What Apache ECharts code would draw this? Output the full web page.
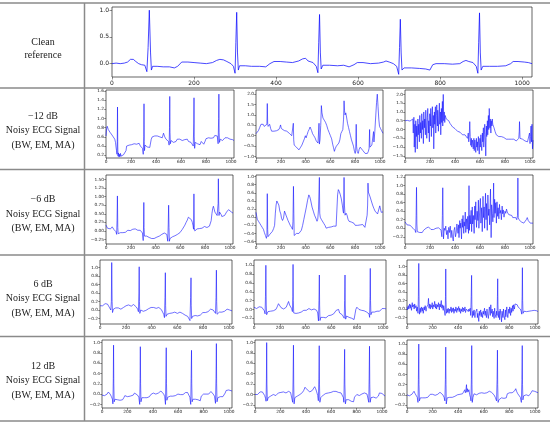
<!DOCTYPE html>
<html>
<head>
<meta charset="utf-8">
<script src="https://cdn.jsdelivr.net/npm/echarts@6/dist/echarts.min.js"></script>
<style>
  html, body { margin: 0; padding: 0; background: #fff; }
  #main { width: 550px; height: 424px; }
</style>
</head>
<body>
<div id="main"></div>
<script>
/* ECG denoising table: clean reference + noisy inputs at 4 SNR levels */
var xTicks = [0, 200, 400, 600, 800, 1000];

var rowNames = ['−12 dB', '−6 dB', '6 dB', '12 dB'];
var noiseNote = ['Noisy ECG Signal', '(BW, EM, MA)'];

// y tick labels of every panel
var ticksClean = [0, 0.5, 1.0];
var ticksM12a = [0.2, 0.4, 0.6, 0.8, 1.0, 1.2, 1.4, 1.6];
var ticksM12b = [-1.0, -0.5, 0, 0.5, 1.0, 1.5, 2.0];
var ticksM12c = [-1.5, -1.0, -0.5, 0, 0.5, 1.0, 1.5, 2.0];
var ticksM6a = [-0.25, 0, 0.25, 0.5, 0.75, 1.0, 1.25, 1.5];
var ticksM6b = [-0.6, -0.4, -0.2, 0, 0.2, 0.4, 0.6, 0.8, 1.0];
var ticksM6c = [-0.2, 0, 0.2, 0.4, 0.6, 0.8, 1.0, 1.2];
var ticksLow = [-0.2, 0, 0.2, 0.4, 0.6, 0.8, 1.0];

var cleanRef = [[0,0.0],[10,0.01],[20,0.0],[30,0.01],[38,0.03],[45,0.08],[52,0.08],[58,0.04],[65,0.0],[72,-0.02],[80,-0.03],[85,-0.15],[88,0.3],[91,1.0],[94,0.2],[96,-0.12],[99,-0.05],[110,-0.05],[125,-0.06],[140,-0.06],[152,-0.08],[160,-0.05],[170,0.03],[185,0.03],[200,0.02],[215,0.01],[230,0.0],[245,0.02],[255,0.06],[263,0.08],[272,0.07],[280,0.04],[290,0.0],[296,-0.05],[300,-0.18],[302,0.4],[304,0.96],[306,0.2],[308,-0.12],[311,-0.04],[325,-0.04],[340,-0.05],[360,-0.05],[375,-0.06],[385,0.0],[395,0.04],[410,0.04],[425,0.03],[440,0.02],[455,0.05],[465,0.09],[472,0.1],[478,0.05],[490,0.02],[498,-0.05],[502,-0.17],[504,0.4],[506,0.92],[508,0.2],[510,-0.1],[514,-0.03],[530,-0.03],[550,-0.04],[565,-0.03],[578,-0.06],[590,-0.02],[598,0.02],[612,0.02],[630,0.0],[650,0.01],[662,0.03],[668,0.05],[676,0.03],[686,0.0],[694,-0.05],[699,-0.2],[701,0.3],[703,0.83],[705,0.2],[707,-0.12],[712,-0.08],[730,-0.08],[750,-0.09],[765,-0.1],[775,-0.12],[782,-0.02],[790,0.0],[810,0.0],[830,-0.01],[848,0.0],[856,0.04],[863,0.06],[870,0.04],[880,0.02],[888,-0.05],[892,-0.18],[894,0.4],[896,0.95],[898,0.2],[900,-0.12],[904,-0.05],[920,-0.05],[940,-0.05],[960,-0.04],[972,0.0],[978,0.04],[990,0.04],[1005,0.03],[1015,0.02],[1024,0.0]];

var noisyM12a = [[0,0.62],[5,0.78],[10,0.83],[18,0.76],[25,0.74],[32,0.7],[40,0.72],[48,0.64],[55,0.62],[62,0.6],[70,0.55],[76,0.48],[80,0.38],[84,0.3],[88,0.22],[90,0.5],[92,1.25],[94,0.4],[96,0.18],[100,0.25],[104,0.16],[108,0.22],[112,0.17],[116,0.24],[120,0.18],[124,0.22],[128,0.16],[132,0.2],[136,0.17],[140,0.21],[145,0.18],[150,0.2],[155,0.25],[160,0.3],[165,0.4],[175,0.38],[185,0.42],[195,0.45],[205,0.43],[215,0.4],[225,0.45],[235,0.42],[245,0.44],[255,0.4],[265,0.46],[275,0.4],[285,0.38],[292,0.35],[298,0.22],[302,0.6],[304,1.32],[306,0.5],[308,0.3],[312,0.42],[320,0.4],[330,0.38],[340,0.35],[350,0.37],[356,0.33],[362,0.55],[370,0.6],[380,0.58],[390,0.62],[400,0.64],[410,0.62],[420,0.66],[430,0.6],[440,0.63],[450,0.58],[460,0.68],[470,0.6],[480,0.55],[490,0.56],[500,0.5],[505,0.42],[508,0.8],[510,1.48],[512,0.7],[515,0.45],[520,0.52],[530,0.5],[540,0.48],[550,0.52],[560,0.5],[570,0.55],[580,0.57],[590,0.55],[600,0.58],[610,0.52],[620,0.5],[630,0.54],[640,0.52],[650,0.55],[660,0.5],[670,0.52],[680,0.48],[690,0.5],[698,0.4],[702,0.9],[704,1.45],[706,0.6],[709,0.35],[714,0.48],[722,0.5],[732,0.45],[742,0.47],[752,0.43],[762,0.5],[772,0.46],[782,0.44],[792,0.5],[800,0.56],[810,0.6],[820,0.58],[830,0.62],[840,0.57],[850,0.6],[860,0.58],[870,0.63],[880,0.6],[890,0.62],[897,0.45],[901,1.0],[903,1.53],[905,0.7],[908,0.48],[914,0.55],[922,0.55],[932,0.52],[942,0.55],[952,0.58],[962,0.6],[972,0.58],[982,0.6],[992,0.55],[1002,0.57],[1012,0.54],[1024,0.52]];

var noisyM12b = [[0,0.1],[10,0.15],[20,0.25],[30,0.4],[40,0.55],[50,0.62],[58,0.55],[66,0.45],[74,0.5],[82,0.4],[88,0.55],[91,1.55],[94,0.6],[98,0.45],[104,0.5],[110,0.55],[118,0.35],[126,0.22],[135,0.25],[145,0.22],[155,0.25],[165,0.24],[175,0.28],[185,0.3],[192,0.4],[198,0.52],[204,0.35],[210,0.4],[218,0.28],[228,0.25],[238,0.2],[248,0.22],[258,0.15],[268,0.12],[278,0.05],[288,0.0],[296,-0.05],[301,0.6],[304,-0.2],[308,-0.45],[316,-0.5],[326,-0.55],[336,-0.6],[346,-0.68],[352,-0.72],[360,-0.55],[370,-0.45],[380,-0.3],[390,-0.15],[398,0.0],[404,-0.1],[412,0.05],[420,0.2],[428,0.3],[436,0.42],[442,0.48],[448,0.25],[456,0.1],[466,0.0],[476,-0.1],[486,-0.25],[494,-0.2],[500,-0.35],[504,-0.3],[508,0.6],[511,-0.4],[516,-0.2],[522,0.5],[527,1.45],[532,1.1],[540,0.85],[550,0.75],[560,0.65],[570,0.5],[580,0.3],[590,0.15],[600,0.0],[610,-0.15],[618,-0.4],[624,-0.55],[632,-0.75],[640,-0.6],[648,-0.5],[658,-0.45],[668,-0.35],[676,-0.2],[684,0.1],[692,0.2],[700,0.3],[706,0.8],[710,1.68],[714,1.2],[718,1.0],[724,1.1],[730,0.9],[738,0.6],[746,0.4],[754,0.2],[762,0.0],[770,-0.2],[778,-0.35],[786,-0.5],[794,-0.75],[800,-0.85],[804,-0.7],[808,0.55],[811,-0.5],[816,-0.75],[824,-0.85],[832,-0.65],[840,-0.55],[850,-0.6],[860,-0.7],[870,-0.75],[880,-0.85],[890,-0.92],[898,-0.85],[906,-0.75],[912,-0.6],[916,0.3],[919,-0.55],[926,-0.5],[934,-0.45],[942,-0.5],[948,0.2],[951,-0.3],[958,0.2],[965,0.9],[972,1.6],[978,2.0],[984,1.4],[990,0.8],[996,0.45],[1004,0.35],[1012,0.25],[1018,0.2],[1024,0.12]];

var noisyM12c = [[0,0.5],[20,0.52],[40,0.48],[55,0.45],[62,0.6],[66,-0.2],[71,0.7],[74,-1.0],[79,0.3],[82,-1.3],[86,0.5],[91,-0.4],[94,0.2],[98,-1.1],[103,0.6],[106,-0.3],[110,0.3],[115,-0.7],[118,0.8],[123,-0.2],[126,0.4],[131,-0.5],[134,0.9],[139,0.0],[142,0.5],[147,-0.8],[150,1.0],[155,0.1],[158,0.6],[163,-0.3],[166,1.1],[171,0.2],[174,-0.5],[179,0.7],[182,1.2],[187,-0.2],[190,0.5],[195,-0.7],[198,0.9],[203,0.2],[206,1.2],[211,-0.4],[214,0.6],[219,1.3],[222,0.1],[227,0.8],[230,-1.1],[235,1.0],[238,0.3],[243,1.3],[246,-0.2],[251,0.8],[254,1.4],[259,0.2],[262,1.1],[267,-0.1],[270,0.6],[275,1.5],[278,0.3],[283,1.0],[286,-0.3],[291,1.2],[294,0.4],[299,1.6],[302,0.2],[306,2.0],[310,0.5],[314,1.0],[318,0.4],[322,0.8],[330,0.6],[340,0.65],[350,0.5],[360,0.35],[370,0.25],[380,0.15],[390,0.1],[400,0.05],[410,-0.05],[420,-0.1],[430,-0.2],[440,-0.15],[450,-0.25],[460,-0.3],[470,-0.35],[480,-0.3],[490,-0.4],[500,-0.5],[506,-0.2],[510,-0.7],[514,-0.3],[518,0.45],[522,-0.4],[526,-0.9],[531,-0.5],[534,-1.0],[539,-0.6],[542,-0.7],[546,-1.1],[551,-0.5],[554,-1.2],[559,-0.6],[562,-0.9],[566,-1.3],[571,-0.5],[574,-1.0],[579,-0.7],[582,-1.2],[587,-0.4],[590,-0.9],[594,-1.4],[599,-0.5],[602,-1.0],[607,-0.3],[610,-0.8],[614,-1.2],[619,-0.2],[622,-0.7],[627,0.1],[630,-1.0],[635,-0.3],[638,0.3],[643,-0.6],[646,-1.5],[651,0.2],[654,-0.4],[659,0.5],[662,-0.3],[667,0.8],[670,0.0],[674,1.2],[679,0.1],[682,0.6],[687,-0.2],[690,0.5],[695,0.2],[698,0.6],[702,0.3],[706,0.4],[712,0.1],[720,-0.1],[730,-0.3],[740,-0.35],[750,-0.4],[760,-0.45],[770,-0.4],[780,-0.5],[790,-0.45],[800,-0.5],[810,-0.55],[820,-0.5],[830,-0.55],[840,-0.6],[850,-0.55],[860,-0.6],[870,-0.55],[880,-0.6],[890,-0.65],[900,-0.55],[910,-0.5],[914,-0.1],[916,0.45],[920,-0.5],[930,-0.6],[940,-0.55],[950,-0.6],[960,-0.65],[970,-0.6],[980,-0.7],[990,-0.6],[996,-0.2],[1000,-0.8],[1004,-0.4],[1008,0.2],[1012,-0.7],[1016,0.3],[1020,-1.1],[1024,-0.6]];

var noisyM6a = [[0,0.17],[6,0.12],[12,0.08],[20,0.05],[28,0.08],[36,0.06],[44,0.1],[50,0.12],[56,0.08],[64,0.04],[72,0.0],[80,-0.02],[86,-0.1],[89,0.3],[92,1.02],[95,0.1],[98,-0.08],[106,-0.03],[116,-0.05],[126,-0.02],[136,-0.05],[146,-0.03],[156,-0.04],[166,0.0],[176,0.02],[186,0.0],[196,0.01],[206,0.03],[216,0.05],[226,0.04],[236,0.06],[246,0.03],[256,0.02],[266,0.0],[276,0.02],[286,-0.03],[294,-0.06],[300,-0.28],[303,0.2],[305,0.83],[307,0.1],[310,-0.15],[318,-0.12],[328,-0.15],[338,-0.17],[348,-0.19],[358,-0.2],[368,-0.22],[378,-0.21],[388,-0.22],[398,-0.2],[410,-0.18],[420,-0.17],[430,-0.15],[440,-0.13],[450,-0.1],[460,-0.08],[470,-0.06],[480,-0.05],[490,-0.1],[498,-0.3],[502,0.2],[505,0.75],[508,0.1],[511,-0.3],[516,-0.22],[526,-0.2],[536,-0.17],[546,-0.16],[556,-0.14],[566,-0.12],[576,-0.1],[586,-0.08],[596,-0.05],[606,0.0],[616,0.05],[626,0.1],[636,0.17],[646,0.25],[656,0.32],[664,0.4],[672,0.45],[680,0.38],[688,0.33],[696,0.25],[702,0.15],[706,0.05],[709,1.08],[712,0.1],[716,0.0],[724,0.05],[734,0.06],[744,0.08],[754,0.07],[764,0.05],[774,0.08],[784,0.12],[794,0.13],[804,0.11],[814,0.1],[824,0.12],[834,0.14],[842,0.18],[848,0.3],[854,0.5],[860,0.65],[866,0.72],[872,0.68],[878,0.55],[884,0.5],[890,0.52],[896,0.45],[900,0.5],[904,0.8],[906,1.52],[908,0.9],[911,0.45],[916,0.55],[922,0.5],[928,0.48],[934,0.42],[940,0.4],[948,0.42],[956,0.45],[964,0.5],[972,0.55],[980,0.6],[988,0.62],[996,0.6],[1004,0.57],[1012,0.55],[1024,0.52]];

var noisyM6b = [[0,0.12],[10,-0.05],[20,-0.1],[30,-0.15],[40,-0.2],[50,-0.25],[60,-0.3],[68,-0.38],[76,-0.45],[84,-0.52],[88,-0.45],[91,0.58],[94,-0.3],[97,-0.48],[104,-0.44],[112,-0.42],[122,-0.4],[132,-0.35],[142,-0.28],[150,-0.2],[156,0.1],[162,0.3],[168,0.4],[176,0.38],[184,0.3],[192,0.15],[200,0.08],[206,-0.03],[214,-0.08],[222,-0.02],[230,0.15],[236,0.14],[242,0.05],[250,0.02],[258,-0.08],[266,-0.12],[276,-0.2],[286,-0.25],[294,-0.3],[298,-0.1],[302,0.76],[305,0.1],[308,-0.45],[316,-0.42],[326,-0.4],[336,-0.42],[346,-0.4],[356,-0.38],[366,-0.32],[376,-0.2],[386,-0.05],[396,0.1],[406,0.25],[416,0.42],[426,0.55],[434,0.5],[442,0.4],[452,0.25],[462,0.15],[472,0.05],[482,-0.02],[492,-0.1],[498,-0.05],[504,0.2],[508,0.22],[511,0.98],[514,0.1],[518,0.0],[526,-0.05],[536,-0.08],[546,-0.15],[556,-0.2],[566,-0.27],[576,-0.28],[586,-0.25],[596,-0.26],[606,-0.24],[616,-0.25],[626,-0.22],[636,-0.23],[646,-0.22],[652,-0.2],[658,0.55],[664,0.68],[672,0.63],[680,0.55],[688,0.45],[696,0.3],[702,0.15],[706,0.1],[710,0.98],[713,0.3],[718,0.05],[726,0.1],[734,0.05],[742,-0.05],[750,-0.1],[760,-0.08],[770,-0.12],[780,-0.1],[790,-0.15],[800,-0.2],[810,-0.18],[820,-0.2],[830,-0.2],[840,-0.19],[850,-0.2],[860,-0.18],[870,-0.17],[878,-0.25],[886,-0.22],[892,-0.26],[896,0.05],[900,0.3],[903,0.84],[906,0.62],[912,0.6],[920,0.5],[930,0.4],[940,0.3],[950,0.22],[960,0.15],[970,0.12],[980,0.08],[990,0.05],[998,0.28],[1004,0.3],[1010,0.12],[1018,0.15],[1024,0.13]];

var noisyM6c = [[0,0.15],[8,0.12],[16,0.08],[24,0.05],[32,0.1],[40,0.07],[48,0.03],[56,0.05],[64,0.0],[72,-0.03],[80,-0.05],[86,-0.1],[89,0.3],[92,0.96],[95,0.1],[98,-0.08],[108,-0.06],[118,-0.1],[128,-0.08],[138,-0.1],[148,-0.05],[158,-0.04],[168,0.0],[178,0.02],[188,0.03],[198,0.0],[208,-0.03],[218,-0.02],[228,-0.03],[238,-0.01],[248,0.0],[258,0.02],[268,0.01],[278,0.03],[288,-0.04],[295,-0.2],[299,0.3],[302,0.95],[305,0.1],[308,-0.25],[314,0.0],[320,-0.05],[326,0.05],[332,-0.15],[338,-0.05],[344,-0.25],[350,0.02],[356,-0.1],[362,0.05],[368,-0.22],[374,-0.05],[380,-0.2],[386,-0.3],[392,-0.05],[398,0.02],[404,-0.2],[410,-0.1],[415,0.1],[420,0.1],[424,-0.12],[429,0.08],[432,-0.22],[438,0.18],[441,0.0],[446,0.12],[452,-0.25],[456,0.22],[461,0.02],[464,0.3],[470,-0.12],[473,0.15],[478,0.05],[482,0.38],[486,-0.1],[492,0.22],[497,-0.02],[502,0.28],[508,-0.12],[512,1.0],[515,-0.05],[519,0.3],[523,0.1],[529,0.42],[533,-0.08],[538,0.5],[541,0.1],[547,0.3],[553,-0.12],[558,0.52],[561,0.2],[566,0.62],[572,0.02],[577,0.4],[583,0.18],[587,0.66],[591,0.0],[598,0.45],[603,0.7],[607,0.12],[613,0.48],[618,-0.08],[624,0.75],[628,0.25],[633,0.5],[637,0.0],[644,0.82],[648,0.2],[652,0.58],[658,-0.05],[663,0.78],[668,0.3],[672,0.45],[677,0.08],[684,0.92],[689,-0.22],[693,0.55],[698,0.35],[703,0.15],[709,1.06],[712,0.25],[717,0.68],[721,0.35],[726,0.6],[731,0.12],[736,0.62],[741,0.28],[745,0.48],[751,0.22],[756,0.56],[760,0.35],[766,0.42],[771,0.2],[777,0.52],[781,0.34],[786,0.43],[792,0.26],[800,0.4],[806,0.35],[812,0.45],[818,0.38],[824,0.4],[830,0.32],[838,0.35],[846,0.28],[854,0.3],[862,0.25],[870,0.27],[878,0.22],[886,0.25],[894,0.2],[900,0.3],[903,1.18],[906,0.25],[912,0.2],[920,0.18],[930,0.15],[940,0.16],[950,0.12],[960,0.15],[970,0.2],[978,0.25],[986,0.18],[994,0.15],[1002,0.12],[1010,0.15],[1018,0.1],[1024,0.12]];

var noisyP6a = [[0,0.1],[10,0.11],[20,0.1],[30,0.12],[40,0.15],[50,0.19],[58,0.14],[66,0.1],[75,0.05],[84,0.0],[88,0.2],[91,1.12],[94,0.2],[97,-0.06],[104,0.02],[112,0.03],[122,0.05],[132,0.04],[142,0.05],[152,0.03],[162,0.02],[172,0.02],[182,0.06],[192,0.09],[202,0.1],[212,0.11],[222,0.12],[232,0.11],[242,0.09],[252,0.08],[260,0.13],[266,0.17],[274,0.11],[282,0.07],[292,0.02],[298,-0.04],[302,0.4],[304,1.02],[306,0.2],[309,-0.08],[316,0.0],[326,-0.02],[336,-0.03],[346,-0.02],[356,-0.01],[366,0.0],[376,0.03],[386,0.05],[396,0.06],[406,0.08],[416,0.06],[426,0.04],[436,0.04],[446,0.05],[456,0.06],[466,0.04],[476,0.01],[486,-0.05],[494,-0.1],[500,-0.18],[504,0.3],[507,0.88],[509,0.1],[512,-0.15],[520,-0.1],[530,-0.1],[540,-0.08],[550,-0.08],[560,-0.07],[570,-0.05],[580,-0.05],[590,-0.07],[600,-0.08],[610,-0.06],[620,-0.05],[630,-0.07],[640,-0.08],[650,-0.1],[660,-0.12],[670,-0.13],[680,-0.15],[690,-0.18],[698,-0.25],[703,0.3],[706,0.76],[708,0.1],[711,-0.2],[718,-0.15],[728,-0.15],[738,-0.13],[748,-0.12],[758,-0.14],[768,-0.15],[778,-0.12],[788,-0.08],[798,-0.06],[808,-0.05],[818,-0.06],[828,-0.08],[838,-0.04],[848,0.0],[858,0.02],[868,0.03],[878,0.0],[888,-0.04],[896,-0.08],[900,0.3],[903,0.94],[905,0.2],[908,-0.1],[916,-0.06],[926,-0.05],[936,-0.04],[946,-0.05],[956,-0.05],[966,-0.03],[976,0.0],[986,0.02],[996,0.01],[1006,0.0],[1016,-0.01],[1024,-0.02]];

var noisyP6b = [[0,0.05],[10,0.08],[20,0.02],[30,0.04],[40,0.06],[50,0.1],[60,0.05],[70,0.02],[80,-0.03],[86,-0.1],[89,0.3],[92,1.0],[95,0.1],[98,-0.12],[108,-0.05],[118,-0.06],[128,-0.04],[140,-0.05],[150,-0.03],[160,-0.02],[170,0.0],[180,0.06],[190,0.13],[200,0.1],[210,0.04],[220,0.0],[230,0.01],[240,0.03],[250,0.05],[260,0.08],[268,0.18],[276,0.1],[284,0.12],[292,0.02],[298,-0.05],[301,0.3],[303,1.02],[305,0.2],[308,-0.08],[316,-0.07],[326,-0.09],[336,-0.1],[346,-0.08],[356,-0.1],[366,-0.06],[376,-0.03],[386,-0.02],[396,-0.05],[406,-0.02],[416,0.0],[426,0.02],[436,0.0],[446,-0.01],[456,-0.03],[466,0.01],[476,0.03],[486,-0.02],[494,-0.08],[500,-0.26],[504,0.2],[507,0.78],[509,0.1],[512,-0.25],[518,-0.18],[528,-0.15],[538,-0.18],[548,-0.17],[558,-0.19],[568,-0.15],[578,-0.14],[588,-0.12],[598,-0.13],[608,-0.12],[618,-0.1],[628,-0.06],[638,-0.02],[648,0.02],[656,0.0],[664,-0.08],[674,-0.1],[684,-0.12],[694,-0.14],[700,-0.2],[703,0.2],[706,0.78],[708,0.1],[711,-0.22],[718,-0.15],[728,-0.16],[738,-0.18],[748,-0.17],[758,-0.2],[768,-0.21],[776,-0.23],[784,-0.1],[790,0.0],[798,0.05],[806,0.03],[814,0.0],[824,0.02],[834,-0.02],[844,0.0],[854,-0.03],[864,-0.04],[874,-0.06],[884,-0.08],[892,-0.1],[897,-0.18],[900,0.3],[902,0.93],[904,0.2],[907,-0.12],[914,-0.06],[924,-0.05],[934,-0.06],[944,-0.05],[954,-0.04],[964,-0.06],[974,-0.04],[984,-0.02],[994,0.02],[1004,0.03],[1014,0.02],[1024,0.01]];

var noisyP6c = [[0,0.05],[4,-0.02],[10,0.08],[14,0.0],[21,0.12],[25,0.02],[29,0.1],[35,-0.03],[41,0.15],[44,0.05],[50,0.1],[56,0.0],[60,0.12],[64,0.03],[71,0.08],[75,-0.05],[80,0.05],[86,-0.1],[89,0.3],[92,1.07],[95,0.1],[98,-0.12],[104,0.02],[108,-0.08],[112,0.05],[119,-0.05],[123,0.03],[127,-0.1],[134,0.05],[138,-0.02],[142,0.08],[149,-0.05],[153,0.04],[157,0.0],[164,0.1],[168,0.25],[172,0.02],[178,0.12],[182,0.0],[186,0.1],[193,0.04],[197,0.15],[201,0.0],[208,0.1],[212,0.05],[216,0.18],[223,0.02],[227,0.12],[231,0.0],[238,0.1],[242,0.05],[246,0.15],[253,-0.02],[257,0.12],[261,0.05],[268,0.2],[272,0.02],[276,0.1],[283,-0.03],[287,0.08],[291,0.0],[298,-0.15],[301,0.3],[303,0.94],[305,0.2],[308,-0.1],[314,0.0],[318,-0.08],[322,0.02],[329,-0.1],[333,0.0],[337,-0.05],[344,0.05],[348,-0.08],[352,0.02],[359,-0.06],[363,0.03],[367,-0.1],[374,0.0],[378,-0.05],[382,0.05],[389,-0.08],[393,0.02],[397,-0.03],[404,0.06],[408,-0.06],[412,0.02],[419,-0.1],[423,0.0],[427,-0.05],[434,0.04],[438,-0.07],[442,0.02],[449,-0.04],[453,0.05],[457,-0.08],[464,0.0],[468,-0.03],[472,0.04],[479,-0.06],[483,0.0],[487,-0.05],[494,0.02],[498,-0.15],[502,0.3],[505,0.79],[507,0.1],[510,-0.2],[516,-0.05],[520,-0.15],[524,-0.02],[531,-0.2],[535,-0.08],[539,-0.12],[546,0.0],[550,-0.2],[554,-0.1],[561,-0.29],[565,-0.05],[569,-0.15],[576,-0.02],[580,-0.18],[584,-0.08],[591,-0.2],[595,-0.05],[599,-0.12],[606,0.02],[610,-0.15],[614,-0.05],[621,-0.2],[625,0.0],[629,-0.1],[636,-0.22],[640,-0.05],[644,0.05],[651,-0.15],[655,0.1],[659,-0.1],[666,0.0],[670,-0.18],[674,-0.05],[681,-0.22],[685,0.02],[689,-0.12],[696,-0.2],[700,-0.05],[704,-0.15],[707,0.3],[709,0.71],[711,0.1],[714,-0.2],[720,-0.05],[724,-0.25],[728,0.0],[735,-0.15],[739,-0.3],[743,-0.05],[750,-0.2],[754,0.0],[758,-0.15],[765,-0.25],[769,-0.02],[773,-0.18],[780,0.05],[784,-0.12],[788,-0.2],[795,0.0],[799,-0.1],[803,0.05],[810,-0.15],[814,0.02],[818,-0.08],[825,0.08],[829,-0.05],[833,0.1],[840,0.0],[844,0.12],[850,0.15],[856,0.08],[862,0.1],[868,0.05],[874,0.07],[880,0.02],[886,0.0],[892,-0.05],[897,-0.12],[900,0.3],[902,0.97],[904,0.2],[907,-0.1],[914,-0.05],[924,-0.04],[934,-0.06],[944,-0.04],[954,-0.05],[964,-0.03],[974,-0.04],[984,-0.02],[994,-0.03],[1004,-0.02],[1014,-0.04],[1024,-0.06]];

var noisyP12a = [[0,-0.02],[10,-0.03],[20,-0.03],[30,-0.01],[40,0.0],[50,0.04],[56,0.03],[64,0.0],[74,-0.05],[82,-0.1],[86,-0.19],[89,0.3],[91,0.95],[93,0.2],[96,-0.15],[102,-0.1],[112,-0.1],[122,-0.11],[132,-0.12],[142,-0.12],[152,-0.13],[162,-0.11],[172,-0.07],[180,-0.03],[190,-0.04],[200,-0.05],[212,-0.05],[222,-0.04],[234,-0.05],[246,-0.02],[256,0.02],[262,0.04],[270,0.01],[280,-0.02],[290,-0.06],[297,-0.2],[300,0.3],[302,0.92],[304,0.2],[307,-0.15],[314,-0.07],[324,-0.06],[334,-0.07],[344,-0.06],[354,-0.07],[364,-0.06],[374,-0.05],[384,-0.01],[394,0.01],[404,0.02],[414,0.02],[424,0.0],[434,0.01],[444,0.02],[454,0.03],[464,0.06],[470,0.08],[478,0.03],[486,0.0],[494,-0.05],[500,-0.2],[503,0.3],[506,0.9],[508,0.2],[511,-0.12],[518,-0.06],[528,-0.03],[538,-0.04],[548,-0.05],[558,-0.04],[568,-0.05],[578,-0.03],[588,-0.02],[598,0.0],[608,-0.01],[618,-0.01],[628,0.0],[638,-0.01],[648,0.0],[658,0.03],[666,0.05],[674,0.03],[684,-0.02],[692,-0.06],[699,-0.2],[702,0.3],[705,0.85],[707,0.2],[710,-0.15],[716,-0.1],[726,-0.1],[736,-0.1],[746,-0.1],[756,-0.11],[766,-0.12],[774,-0.13],[782,-0.04],[790,-0.01],[800,0.0],[810,-0.01],[820,0.0],[830,-0.01],[840,0.0],[850,0.02],[858,0.05],[866,0.04],[876,0.0],[886,-0.04],[894,-0.18],[898,0.3],[901,0.98],[903,0.2],[906,-0.15],[912,-0.07],[922,-0.05],[932,-0.05],[942,-0.05],[952,-0.05],[962,-0.04],[970,0.02],[978,0.07],[988,0.08],[998,0.08],[1010,0.07],[1024,0.06]];

var noisyP12b = [[0,0.0],[10,0.01],[20,0.0],[30,0.02],[40,0.05],[50,0.07],[58,0.05],[66,0.02],[76,-0.02],[84,-0.08],[87,-0.13],[90,0.3],[92,1.0],[94,0.2],[97,-0.12],[104,-0.06],[114,-0.05],[124,-0.03],[134,-0.02],[144,0.0],[154,-0.01],[164,-0.02],[174,-0.01],[184,0.03],[194,0.05],[204,0.04],[214,0.03],[224,0.05],[234,0.04],[244,0.03],[254,0.04],[264,0.06],[272,0.07],[280,0.04],[290,0.02],[297,-0.15],[300,0.3],[303,0.95],[305,0.2],[308,-0.18],[314,-0.06],[324,-0.05],[334,-0.03],[344,-0.03],[354,0.0],[364,0.01],[374,0.04],[384,0.08],[394,0.14],[402,0.12],[412,0.09],[422,0.06],[432,0.05],[442,0.06],[452,0.08],[462,0.11],[470,0.15],[478,0.11],[486,0.05],[494,-0.02],[499,-0.12],[503,0.3],[506,0.94],[508,0.2],[511,-0.15],[518,-0.06],[528,-0.03],[538,-0.01],[548,0.0],[558,0.02],[568,0.05],[578,0.03],[588,0.02],[598,0.04],[608,0.05],[618,0.06],[628,0.08],[638,0.06],[648,0.05],[658,0.04],[668,0.05],[678,0.03],[688,0.0],[696,-0.06],[700,-0.15],[703,0.3],[706,0.87],[708,0.2],[712,-0.18],[718,-0.1],[728,-0.1],[738,-0.1],[748,-0.11],[758,-0.13],[768,-0.15],[776,-0.14],[784,-0.05],[792,-0.02],[802,0.0],[812,0.0],[822,-0.02],[832,-0.01],[842,0.01],[852,0.02],[862,0.03],[872,0.03],[882,0.01],[890,-0.02],[896,-0.15],[899,0.3],[902,0.93],[904,0.2],[907,-0.15],[914,-0.06],[924,-0.05],[934,-0.05],[944,-0.05],[954,-0.07],[964,-0.08],[972,-0.03],[980,0.03],[990,0.02],[1000,0.02],[1012,-0.01],[1024,-0.03]];

var noisyP12c = [[0,0.0],[8,0.01],[18,-0.02],[28,-0.01],[38,0.01],[46,0.04],[55,0.07],[62,0.03],[70,0.0],[80,-0.05],[86,-0.15],[89,0.3],[92,1.0],[94,0.2],[97,-0.12],[104,-0.06],[112,-0.05],[122,-0.06],[132,-0.07],[142,-0.06],[152,-0.06],[162,-0.05],[172,-0.03],[182,0.01],[190,0.03],[200,0.01],[210,0.0],[220,-0.01],[230,0.0],[240,0.01],[250,0.02],[258,0.05],[265,0.08],[272,0.05],[280,0.0],[290,-0.05],[296,-0.12],[300,0.3],[303,0.94],[305,0.2],[307,-0.18],[314,-0.06],[324,-0.05],[334,-0.05],[344,-0.04],[354,-0.05],[364,-0.04],[374,-0.03],[384,-0.02],[394,0.0],[404,0.02],[414,0.01],[424,0.0],[434,0.02],[444,0.03],[452,0.1],[456,0.04],[460,0.08],[465,0.2],[468,0.05],[472,0.12],[478,0.06],[484,0.1],[490,0.0],[496,-0.05],[500,-0.12],[503,0.3],[506,0.97],[508,0.2],[510,-0.15],[516,-0.05],[524,0.02],[534,0.01],[544,0.0],[554,0.02],[564,0.03],[574,0.02],[584,0.04],[594,0.05],[604,0.03],[614,0.02],[624,0.04],[634,0.05],[644,0.07],[652,0.08],[660,0.05],[670,0.03],[680,0.0],[690,-0.05],[700,-0.12],[704,0.3],[707,0.88],[709,0.2],[712,-0.15],[718,-0.1],[728,-0.08],[738,-0.06],[748,-0.05],[758,-0.07],[768,-0.1],[776,-0.06],[784,0.02],[792,0.05],[802,0.04],[812,0.03],[822,0.04],[832,0.05],[842,0.08],[850,0.12],[858,0.06],[866,0.02],[876,0.0],[886,-0.05],[894,-0.15],[898,0.3],[901,0.97],[903,0.2],[906,-0.1],[912,-0.02],[922,0.0],[932,0.0],[942,-0.01],[952,-0.02],[962,-0.01],[970,0.04],[978,0.08],[986,0.09],[996,0.07],[1006,0.06],[1016,0.05],[1024,0.04]];

var chart = echarts.init(document.getElementById('main'), null, { renderer: 'canvas' });

// panel boxes in pixels
var panels = [
  { d: cleanRef,   t: ticksClean, dec: 1, l: 112, top: 7,   w: 420, h: 70, lo: -0.25, hi: 1.06, fs: 6 },
  { d: noisyM12a,  t: ticksM12a,  dec: 1, l: 106, top: 90,  w: 128, h: 68, lo: 0.14,  hi: 1.62, fs: 4.3 },
  { d: noisyM12b,  t: ticksM12b,  dec: 1, l: 256, top: 90,  w: 127, h: 68, lo: -1.07, hi: 2.2,  fs: 4.3 },
  { d: noisyM12c,  t: ticksM12c,  dec: 1, l: 405, top: 90,  w: 128, h: 68, lo: -1.62, hi: 2.25, fs: 4.3 },
  { d: noisyM6a,   t: ticksM6a,   dec: 2, l: 106, top: 175, w: 127, h: 69, lo: -0.38, hi: 1.63, fs: 4.3 },
  { d: noisyM6b,   t: ticksM6b,   dec: 1, l: 256, top: 175, w: 127, h: 69, lo: -0.66, hi: 1.04, fs: 4.3 },
  { d: noisyM6c,   t: ticksM6c,   dec: 1, l: 405, top: 175, w: 128, h: 69, lo: -0.37, hi: 1.25, fs: 4.3 },
  { d: noisyP6a,   t: ticksLow,   dec: 1, l: 100, top: 260, w: 132, h: 64, lo: -0.33, hi: 1.18, fs: 4.3 },
  { d: noisyP6b,   t: ticksLow,   dec: 1, l: 254, top: 260, w: 132, h: 64, lo: -0.33, hi: 1.12, fs: 4.3 },
  { d: noisyP6c,   t: ticksLow,   dec: 1, l: 407, top: 260, w: 131, h: 64, lo: -0.35, hi: 1.15, fs: 4.3 },
  { d: noisyP12a,  t: ticksLow,   dec: 1, l: 102, top: 340, w: 130, h: 68, lo: -0.27, hi: 1.05, fs: 4.3 },
  { d: noisyP12b,  t: ticksLow,   dec: 1, l: 255, top: 340, w: 130, h: 68, lo: -0.26, hi: 1.05, fs: 4.3 },
  { d: noisyP12c,  t: ticksLow,   dec: 1, l: 407, top: 340, w: 131, h: 68, lo: -0.26, hi: 1.08, fs: 4.3 }
];

var grids = [], xAxes = [], yAxes = [], series = [];
panels.forEach(function (p, i) {
  grids.push({ left: p.l, top: p.top, width: p.w, height: p.h, show: true,
    borderColor: '#222', borderWidth: 0.7, backgroundColor: '#fff' });
  var big = p.fs > 5;
  var tickLen = big ? 2.5 : 1.8;
  xAxes.push({
    type: 'value', gridIndex: i, min: 0, max: 1024, position: 'bottom',
    splitLine: { show: false }, axisLine: { show: false, onZero: false },
    axisTick: { show: true, length: tickLen, customValues: xTicks, lineStyle: { color: '#222', width: 0.5 } },
    axisLabel: { customValues: xTicks, fontSize: p.fs, margin: big ? 3 : 2, color: '#222', fontFamily: 'DejaVu Sans',
      formatter: function (v) { return String(Math.round(v)); } }
  });
  yAxes.push({
    type: 'value', gridIndex: i, min: p.lo, max: p.hi, position: 'left',
    splitLine: { show: false }, axisLine: { show: false, onZero: false },
    axisTick: { show: true, length: tickLen, customValues: p.t, lineStyle: { color: '#222', width: 0.5 } },
    axisLabel: { customValues: p.t, fontSize: p.fs, margin: big ? 3 : 2, color: '#222', fontFamily: 'DejaVu Sans',
      formatter: (function (dec) {
        return function (v) { return Number(v).toFixed(dec).replace('-', '\u2212'); };
      })(p.dec) }
  });
  series.push({
    type: 'line', xAxisIndex: i, yAxisIndex: i, data: p.d,
    showSymbol: false, symbol: 'none', clip: true,
    lineStyle: { color: '#1010ff', width: big ? 0.9 : 0.7, opacity: 0.85 }
  });
});

// table rules and row captions
var lineStyle = { stroke: '#8a8a8a', lineWidth: 1.5 };
var hRules = [3, 88, 169.5, 255, 336.5, 421];
var graphics = [];
hRules.forEach(function (y) {
  graphics.push({ type: 'line', shape: { x1: 0, y1: y, x2: 550, y2: y }, style: lineStyle, silent: true });
});
graphics.push({ type: 'line', shape: { x1: 84.5, y1: 3, x2: 84.5, y2: 421 }, style: lineStyle, silent: true });

var capFont = { fontSize: 10, fontFamily: 'Liberation Serif', fill: '#222', align: 'center', verticalAlign: 'middle' };
function caption(text, y) {
  graphics.push({ type: 'text', x: 43, y: y, silent: true, style: Object.assign({ text: text }, capFont) });
}
caption('Clean', 42);
caption('reference', 55.5);
var rowTop = [116, 199.5, 284, 366];
rowNames.forEach(function (name, r) {
  caption(name, rowTop[r]);
  caption(noiseNote[0], rowTop[r] + 14.5);
  caption(noiseNote[1], rowTop[r] + 29);
});

chart.setOption({
  animation: false,
  backgroundColor: '#fff',
  grid: grids,
  xAxis: xAxes,
  yAxis: yAxes,
  series: series,
  graphic: graphics
});
</script>
</body>
</html>
